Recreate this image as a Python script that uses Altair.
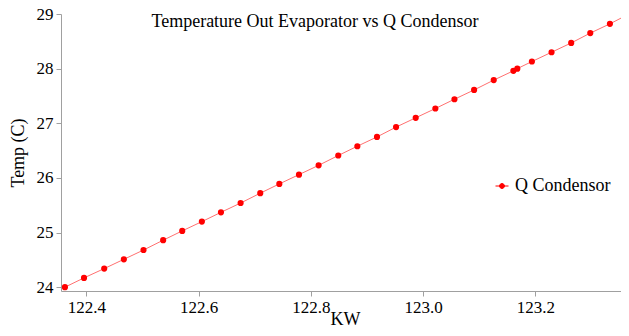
import altair as alt
import pandas as pd

# Data
kw = [122.362, 122.396, 122.432, 122.467, 122.502, 122.537, 122.571, 122.606,
      122.640, 122.675, 122.710, 122.744, 122.779, 122.814, 122.849, 122.883,
      122.918, 122.952, 122.987, 123.022, 123.056, 123.091, 123.126, 123.161,
      123.168, 123.194, 123.229, 123.264, 123.298, 123.333, 123.367]
temp = [24.00, 24.17, 24.34, 24.51, 24.68, 24.86, 25.03, 25.20,
        25.37, 25.54, 25.72, 25.89, 26.06, 26.23, 26.41, 26.58,
        26.75, 26.93, 27.10, 27.27, 27.44, 27.61, 27.79, 27.96,
        28.00, 28.13, 28.30, 28.47, 28.65, 28.82, 29.00]
series = ["Q Condensor"] * len(kw)
x_ticks = [122.4, 122.6, 122.8, 123.0, 123.2]
y_ticks = [24, 25, 26, 27, 28, 29]
title_text = "Temperature Out Evaporator vs Q Condensor"

df = pd.DataFrame({"kw": kw, "temp": temp, "series": series})

FONT = "Liberation Serif"
AX = "#a0a0a0"

x_enc = alt.X(
    "kw:Q",
    scale=alt.Scale(domain=[122.355, 123.367], nice=False, zero=False),
    axis=alt.Axis(values=x_ticks, format=".1f", grid=False, title="KW",
                  labelFont=FONT, labelFontSize=17, labelColor="black",
                  titleFont=FONT, titleFontSize=18, titleFontWeight="normal",
                  titleColor="black", titleY=33, titleBaseline="alphabetic",
                  labelPadding=3,
                  domainColor=AX, tickColor=AX, tickSize=5, labelFlush=False),
)
y_enc = alt.Y(
    "temp:Q",
    scale=alt.Scale(domain=[23.93, 29.0], nice=False, zero=False),
    axis=alt.Axis(values=y_ticks, format="d", grid=False, title="Temp (C)",
                  labelFont=FONT, labelFontSize=17, labelColor="black",
                  titleFont=FONT, titleFontSize=18, titleFontWeight="normal",
                  titleColor="black", titlePadding=9, labelPadding=3,
                  domainColor=AX, tickColor=AX, tickSize=5, labelFlush=False),
)

base = alt.Chart(df)

line = base.mark_line(color="#ff7070", strokeWidth=1, clip=False).encode(
    x=x_enc, y=y_enc, order="kw:Q"
)

legend_symbol = ("M -1 0 L 1 0 M -0.38 0 A 0.38 0.38 0 1 1 0.38 0 "
                 "A 0.38 0.38 0 1 1 -0.38 0 Z")

points = base.mark_circle(size=38, opacity=1, clip=False).encode(
    x=x_enc, y=y_enc,
    color=alt.Color(
        "series:N",
        scale=alt.Scale(range=["#ff0000"]),
        legend=alt.Legend(
            title=None, orient="none", legendX=432, legendY=163,
            symbolType=legend_symbol, symbolSize=169,
            symbolStrokeColor="#ff0000", symbolFillColor="#ff0000",
            symbolStrokeWidth=1, symbolOpacity=1,
            labelFont=FONT, labelFontSize=18, labelColor="black",
            labelOffset=4, padding=0,
        ),
    ),
)

title = alt.Chart(pd.DataFrame({"t": [title_text]})).mark_text(
    font=FONT, fontSize=18, color="black", align="center", baseline="middle"
).encode(text="t:N", x=alt.value(254), y=alt.value(8))

chart = alt.layer(line, points, title).properties(
    width=568, height=277,
    autosize=alt.AutoSizeParams(type="none"),
    padding={"left": 53, "top": 6, "right": -8, "bottom": 37},
).configure(font=FONT).configure_axis(labelFont=FONT, titleFont=FONT).configure_legend(
    labelFont=FONT
).configure_view(stroke=None)

chart.save("out.html", embed_options={"renderer": "svg", "actions": False})
